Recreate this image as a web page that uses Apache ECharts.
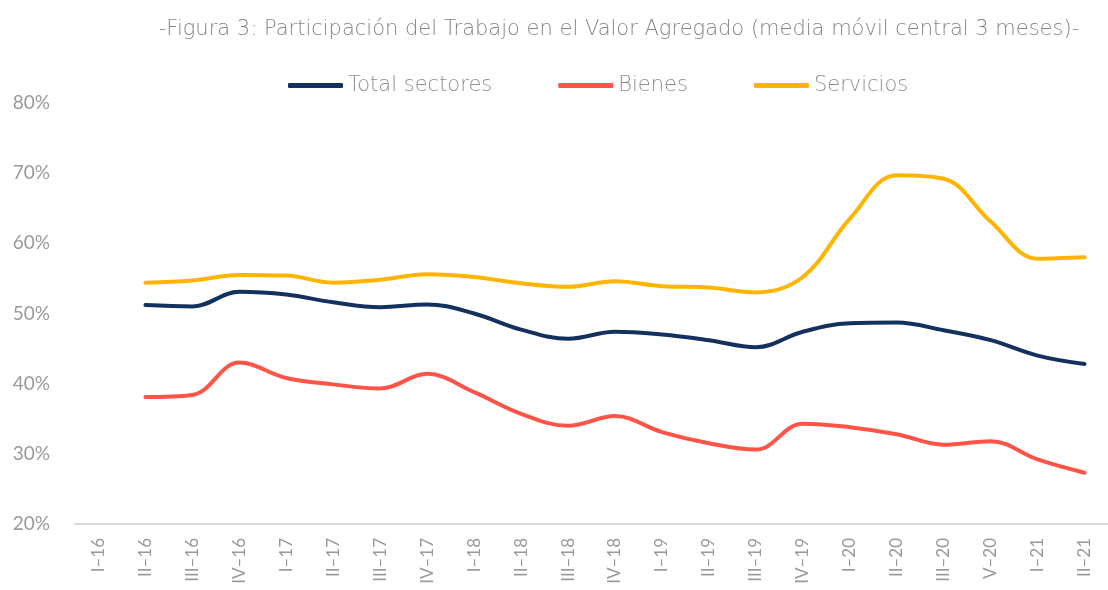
<!DOCTYPE html>
<html>
<head>
<meta charset="utf-8">
<script src="https://cdn.jsdelivr.net/npm/echarts@6/dist/echarts.min.js"></script>
<style>
html,body{margin:0;padding:0;background:#fff;}
#chart{width:1108px;height:590px;}
</style>
</head>
<body>
<div id="chart"></div>
<script>
const titleText = '-Figura 3: Participación del Trabajo en el Valor Agregado (media móvil central 3 meses)-';
const categories = ['I–16','II–16','III–16','IV–16','I–17','II–17','III–17','IV–17','I–18','II–18','III–18','IV–18','I–19','II–19','III–19','IV–19','I–20','II–20','III–20','V–20','I–21','II–21'];
const seriesNames = ['Total sectores','Bienes','Servicios'];
const totalSectores = [null,51.2,51.0,53.1,52.7,51.6,50.9,51.3,50.0,47.7,46.4,47.4,47.0,46.2,45.2,47.4,48.6,48.7,47.6,46.2,44.0,42.8];
const bienes = [null,38.1,38.4,43.0,40.8,39.9,39.3,41.4,38.8,35.7,34.0,35.4,33.1,31.5,30.6,34.3,33.8,32.8,31.3,31.8,29.2,27.3];
const servicios = [null,54.4,54.7,55.5,55.4,54.4,54.8,55.6,55.2,54.3,53.8,54.6,53.9,53.7,53.0,55.2,63.5,69.7,69.2,63.1,57.8,58.0];
const yTicks = [20,30,40,50,60,70,80];

const colors = ['#13305f','#ff5447','#ffb400'];
const font = 'Lato, "Open Sans", sans-serif';
const wideFont = '"DejaVu Sans", sans-serif';
const chart = echarts.init(document.getElementById('chart'));
const mk = (name, data, color) => ({
  name, type:'line', data, smooth:0.38, symbol:'none', connectNulls:false,
  lineStyle:{color, width:4, cap:'round'}, itemStyle:{color}
});
chart.setOption({
  animation:false,
  title:{text:titleText, left:614, textAlign:'center', top:14,
    textStyle:{color:'#868686', fontSize:21, fontWeight:'lighter', fontFamily:wideFont}},
  legend:{top:70, left:283, itemGap:66, itemWidth:55, itemHeight:5, icon:'roundRect',
    textStyle:{color:'#8f8f8f', fontSize:21, fontWeight:'lighter', fontFamily:wideFont},
    data:seriesNames},
  grid:{left:75, right:-3, top:103, bottom:66, containLabel:false},
  xAxis:{type:'category', data:categories, boundaryGap:true,
    axisLine:{lineStyle:{color:'#d9d9d9', width:2}}, axisTick:{show:false},
    axisLabel:{rotate:90, color:'#999999', fontSize:17, fontFamily:font, margin:14, interval:0}},
  yAxis:{type:'value', min:yTicks[0], max:yTicks[yTicks.length-1], interval:10,
    axisLine:{show:false}, axisTick:{show:false}, splitLine:{show:false},
    axisLabel:{color:'#9a9a9a', fontSize:19, fontFamily:font, margin:25, formatter:v=>v+'%'}},
  series:[mk(seriesNames[0], totalSectores, colors[0]), mk(seriesNames[1], bienes, colors[1]), mk(seriesNames[2], servicios, colors[2])]
});
</script>
</body>
</html>
